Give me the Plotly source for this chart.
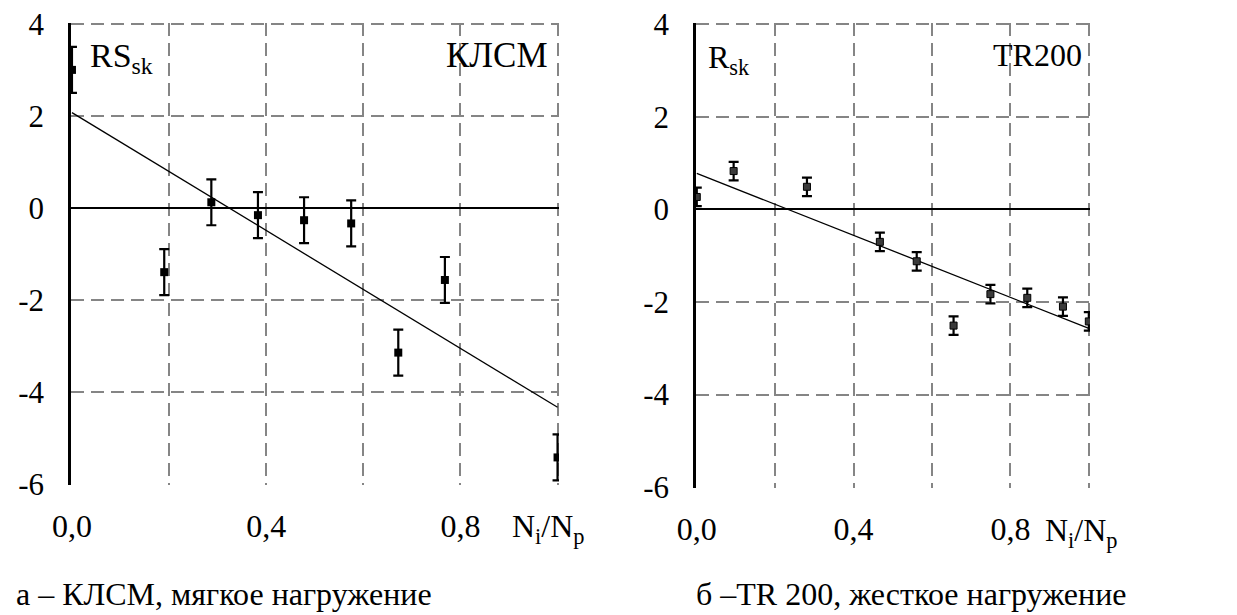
import plotly.graph_objects as go

# ---- data: panel a (КЛСМ, soft loading) ----
a_x = [0.0, 0.19, 0.287, 0.383, 0.478, 0.575, 0.672, 0.768, 1.0]
a_y = [3.01, -1.39, 0.13, -0.15, -0.26, -0.33, -3.14, -1.56, -5.42]
a_err = [0.5, 0.5, 0.5, 0.5, 0.5, 0.5, 0.5, 0.5, 0.5]
a_fit_x = [0.0, 1.0]
a_fit_y = [2.08, -4.33]

# ---- data: panel b (TR200, hard loading) ----
b_x = [0.0, 0.094, 0.281, 0.467, 0.561, 0.655, 0.749, 0.843, 0.934, 1.0]
b_y = [0.27, 0.83, 0.49, -0.70, -1.12, -2.51, -1.83, -1.91, -2.10, -2.42]
b_err = [0.2, 0.2, 0.2, 0.2, 0.2, 0.2, 0.2, 0.2, 0.2, 0.2]
b_fit_x = [0.0, 1.0]
b_fit_y = [0.78, -2.57]

x_ticks = [0.0, 0.2, 0.4, 0.6, 0.8, 1.0]
x_ticktext = ["0,0", "", "0,4", "", "0,8", ""]
y_ticks = [-6, -4, -2, 0, 2, 4]
y_ticktext = ["-6", "-4", "-2", "0", "2", "4"]

FONT = "Liberation Serif, Times New Roman, serif"
W, H = 1237, 615

fig = go.Figure()

# panel a
fig.add_trace(go.Scatter(x=a_fit_x, y=a_fit_y, mode="lines",
                         line=dict(color="black", width=1.3),
                         xaxis="x", yaxis="y", showlegend=False))
fig.add_trace(go.Scatter(x=a_x, y=a_y, mode="markers",
                         marker=dict(symbol="square", size=8, color="black"),
                         error_y=dict(type="data", array=a_err, color="black",
                                      thickness=2.2, width=5),
                         xaxis="x", yaxis="y", showlegend=False))
# panel b
fig.add_trace(go.Scatter(x=b_fit_x, y=b_fit_y, mode="lines",
                         line=dict(color="black", width=1.3),
                         xaxis="x2", yaxis="y2", showlegend=False))
fig.add_trace(go.Scatter(x=b_x, y=b_y, mode="markers",
                         marker=dict(symbol="square", size=7, color="#3a3a3a",
                                     line=dict(color="black", width=1)),
                         error_y=dict(type="data", array=b_err, color="black",
                                      thickness=2.2, width=5),
                         xaxis="x2", yaxis="y2", showlegend=False))

def px_x(p):
    return p / W

def px_y(p):
    return 1 - p / H

grid = dict(showgrid=True, gridcolor="#858585", gridwidth=2, griddash="13px,7px")

xaxis_common = dict(range=[-0.002, 1.003], tickvals=x_ticks, ticktext=x_ticktext,
                    tickfont=dict(family=FONT, size=32, color="black"),
                    showline=False, zeroline=False, ticks="", automargin=False,
                    ticklabelstandoff=19, **grid)
yaxis_common = dict(range=[-6.02, 4.03], tickvals=y_ticks, ticktext=y_ticktext,
                    tickfont=dict(family=FONT, size=31, color="black"),
                    showline=True, linecolor="black", linewidth=2.5,
                    zeroline=True, zerolinecolor="black", zerolinewidth=2,
                    ticks="", automargin=False, ticklabelstandoff=18, **grid)

fig.update_layout(
    template="none",
    width=W, height=H,
    margin=dict(l=0, r=0, t=0, b=0, pad=0),
    paper_bgcolor="white", plot_bgcolor="white",
    font=dict(family=FONT, color="black"),
    xaxis=dict(domain=[px_x(71), px_x(559)], anchor="y", **xaxis_common),
    yaxis=dict(domain=[px_y(485), px_y(23)], anchor="x", **yaxis_common),
    xaxis2=dict(domain=[px_x(696), px_x(1090)], anchor="y2", **xaxis_common),
    yaxis2=dict(domain=[px_y(488), px_y(23)], anchor="x2", **yaxis_common),
)

def ann(text, x, y, xanchor="left", yanchor="middle", size=32):
    fig.add_annotation(text=text, x=px_x(x), y=px_y(y), xref="paper", yref="paper",
                       xanchor=xanchor, yanchor=yanchor, showarrow=False,
                       font=dict(family=FONT, size=size, color="black"))

ann("RS<sub>sk</sub>", 88, 58, size=34)
ann("КЛСМ", 550, 55, xanchor="right", size=35)
ann("R<sub>sk</sub>", 706, 60, size=32)
ann("TR200", 1084, 55, xanchor="right", size=32)
ann("N<sub>i</sub>/N<sub>p</sub>", 510, 528, size=32)
ann("N<sub>i</sub>/N<sub>p</sub>", 1043, 532, size=32)
ann("а – КЛСМ, мягкое нагружение", 14, 594, size=32)
ann("б –TR 200, жесткое нагружение", 694, 594, size=32)

fig.write_html("out.html")
